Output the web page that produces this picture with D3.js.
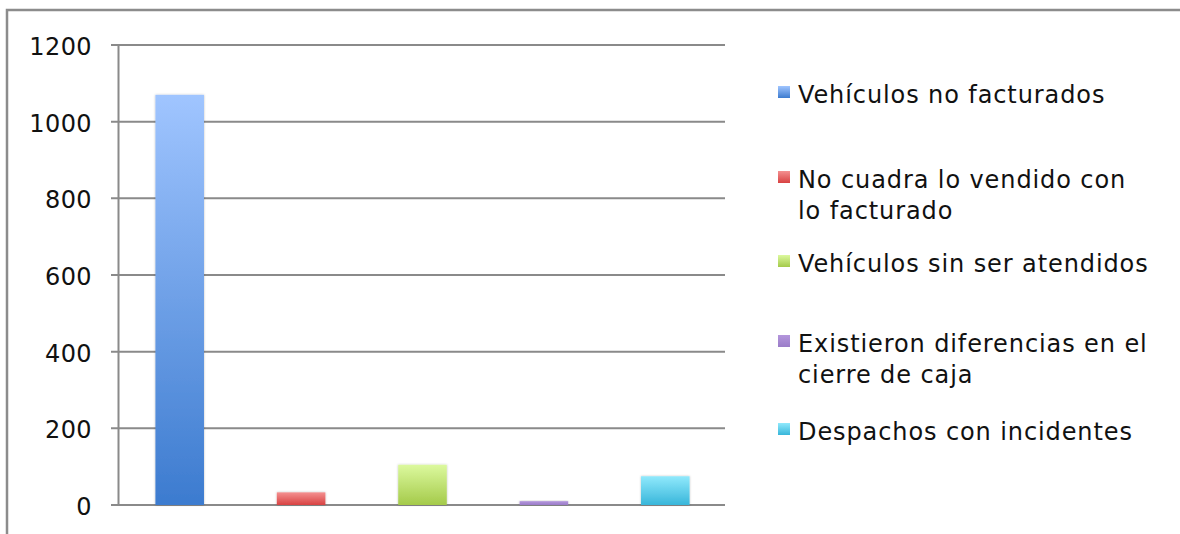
<!DOCTYPE html>
<html>
<head>
<meta charset="utf-8">
<script src="https://cdn.jsdelivr.net/npm/d3@7"></script>
<style>
  body { margin: 0; background: #fff; }
  svg { display: block; font-family: "DejaVu Sans", sans-serif; }
</style>
</head>
<body>
<script>
// datos del gráfico
let categorias = ["Vehículos no facturados", "No cuadra lo vendido con lo facturado", "Vehículos sin ser atendidos", "Existieron diferencias en el cierre de caja", "Despachos con incidentes"];
let etiquetasLeyenda = [["Vehículos no facturados"], ["No cuadra lo vendido con", "lo facturado"], ["Vehículos sin ser atendidos"], ["Existieron diferencias en el", "cierre de caja"], ["Despachos con incidentes"]];
let valores = [1070, 33, 105, 10, 75];
let ticksY = [0, 200, 400, 600, 800, 1000, 1200];

// colores: [arriba, abajo]
let colores = [["#a0c5ff", "#3c7bcf"], ["#f49090", "#d84242"], ["#dcf99e", "#a4ca4a"], ["#b496dc", "#9a7cc8"], ["#90e9fc", "#38b6da"]];

let width = 1180, height = 534;
let svg = d3.select("body").append("svg").attr("width", width).attr("height", height);

let padding = { left: 118, right: 455, top: 45, bottom: 29 };
let fontSize = 24;

// marco exterior (solo se ven los bordes superior e izquierdo)
svg.append("path")
    .attr("d", `M7,${height} L7,10 L${width},10`)
    .attr("fill", "none").attr("stroke", "#8c8c8c").attr("stroke-width", 2.5);

let defs = svg.append("defs");
colores.forEach((c, i) => {
    let lg = defs.append("linearGradient").attr("id", "grad" + i)
        .attr("x1", 0).attr("y1", 0).attr("x2", 0).attr("y2", 1);
    lg.append("stop").attr("offset", "0%").attr("stop-color", c[0]);
    lg.append("stop").attr("offset", "100%").attr("stop-color", c[1]);
});
let filtro = defs.append("filter").attr("id", "sombra").attr("x", "-20%").attr("y", "-20%").attr("width", "140%").attr("height", "140%");
filtro.append("feDropShadow").attr("dx", 0).attr("dy", 0).attr("stdDeviation", 1.2).attr("flood-color", "#000").attr("flood-opacity", 0.25);

let x = d3.scaleBand()
    .domain(d3.range(categorias.length))
    .range([padding.left, width - padding.right])
    .paddingInner(0.6).paddingOuter(0.3);

let y = d3.scaleLinear()
    .domain([0, 1200])
    .range([height - padding.bottom, padding.top]);

// rejilla
svg.append("g").selectAll("line").data(ticksY).join("line")
    .attr("x1", padding.left - 7).attr("x2", width - padding.right)
    .attr("y1", d => y(d)).attr("y2", d => y(d))
    .attr("stroke", "#8a8a8a").attr("stroke-width", 2);

// eje y
let yAxis = d3.axisLeft(y).tickValues(ticksY).tickFormat(d3.format("d")).tickSize(0).tickPadding(26);
svg.append("g")
    .attr("transform", `translate(${padding.left},0)`)
    .call(yAxis)
    .call(g => {
        g.select(".domain").attr("stroke", "#8a8a8a").attr("stroke-width", 2);
        g.selectAll("text").attr("font-size", fontSize).attr("fill", "#111")
            .attr("letter-spacing", 0.4)
            .attr("dy", "0.4em")
            .attr("font-family", "DejaVu Sans, sans-serif");
    });

// barras
svg.append("g").selectAll("rect").data(valores).join("rect")
    .attr("x", (d, i) => x(i) + 1)
    .attr("y", d => y(d))
    .attr("width", x.bandwidth())
    .attr("height", d => y(0) - y(d))
    .attr("fill", (d, i) => `url(#grad${i})`)
    .attr("filter", "url(#sombra)");

// leyenda
let leyendaY = [103, 188, 272, 352, 440]; // línea base de cada entrada
let gLeyenda = svg.append("g");
etiquetasLeyenda.forEach((lineas, i) => {
    let gi = gLeyenda.append("g").attr("transform", `translate(778,${leyendaY[i]})`);
    gi.append("rect").attr("x", 0).attr("y", -17).attr("width", 12).attr("height", 12)
        .attr("fill", `url(#grad${i})`);
    gi.append("text")
        .attr("x", 20).attr("y", 0)
        .attr("font-size", fontSize).attr("fill", "#111")
        .attr("letter-spacing", 0.9)
        .selectAll("tspan").data(lineas).join("tspan")
        .attr("x", 20).attr("dy", (d, j) => j === 0 ? 0 : 31)
        .text(d => d);
});
</script>
</body>
</html>
